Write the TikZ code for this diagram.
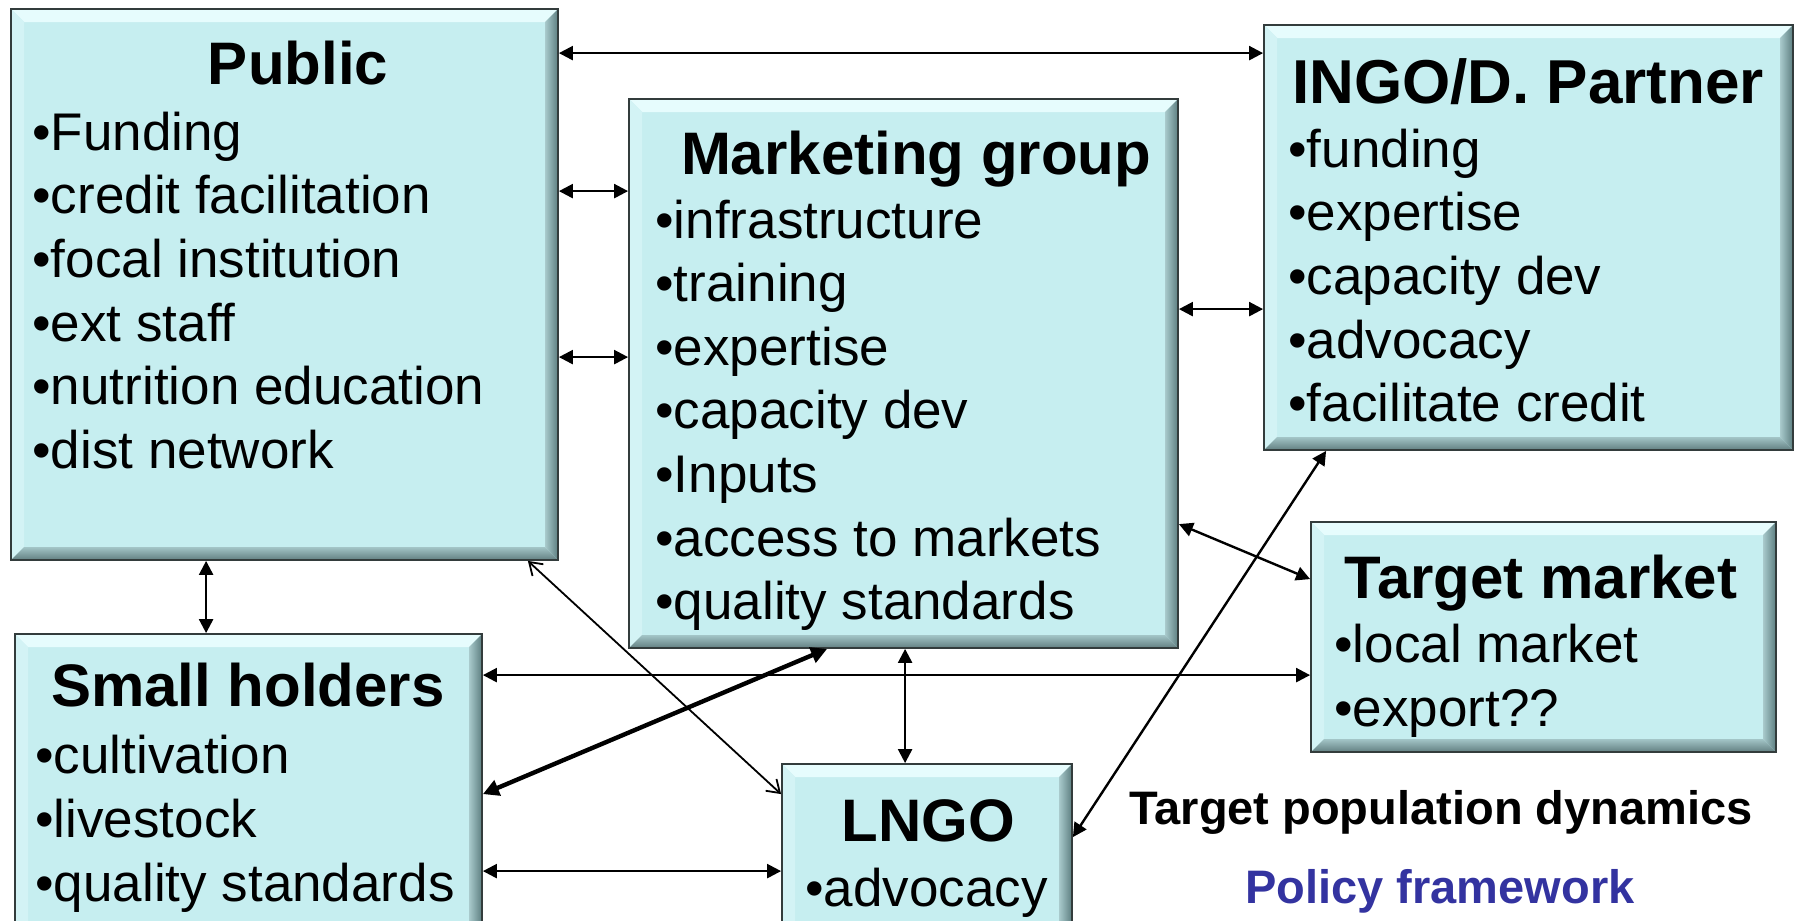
\documentclass[tikz,border=0pt]{standalone}
\usepackage{fontspec}
\setmainfont{Liberation Sans}
\usetikzlibrary{arrows.meta}
\definecolor{panelcyan}{HTML}{C6EEF0}
\definecolor{bevtop}{HTML}{E6FCFD}
\definecolor{bevleft}{HTML}{D3F3F5}
\definecolor{bevrin}{HTML}{A9CACC}
\definecolor{bevrout}{HTML}{5C7E80}
\definecolor{bevbin}{HTML}{A3C5C7}
\definecolor{bevbout}{HTML}{627F81}
\definecolor{edgegray}{HTML}{333C3C}
\definecolor{policyblue}{HTML}{3333A0}

\begin{document}
\begin{tikzpicture}[x=0.5pt,y=-0.5pt,
    panel/.style={draw=edgegray,line width=0.9pt,fill=panelcyan,inner sep=0pt,
      path picture={
        \fill[bevtop] (path picture bounding box.north west) -- (path picture bounding box.north east)
          -- ([xshift=-6.5pt,yshift=-6.5pt]path picture bounding box.north east)
          -- ([xshift=6.5pt,yshift=-6.5pt]path picture bounding box.north west) -- cycle;
        \fill[bevleft] (path picture bounding box.north west) -- ([xshift=6.5pt,yshift=-6.5pt]path picture bounding box.north west)
          -- ([xshift=6.5pt,yshift=6.5pt]path picture bounding box.south west) -- (path picture bounding box.south west) -- cycle;
        \shade[left color=bevrin,right color=bevrout] (path picture bounding box.north east) -- (path picture bounding box.south east)
          -- ([xshift=-6.5pt,yshift=6.5pt]path picture bounding box.south east)
          -- ([xshift=-6.5pt,yshift=-6.5pt]path picture bounding box.north east) -- cycle;
        \shade[top color=bevbin,bottom color=bevbout] (path picture bounding box.south west) -- (path picture bounding box.south east)
          -- ([xshift=-6.5pt,yshift=6.5pt]path picture bounding box.south east)
          -- ([xshift=6.5pt,yshift=6.5pt]path picture bounding box.south west) -- cycle;
      }},
    head/.style={font=\fontsize{30}{36}\selectfont\bfseries,anchor=base,inner sep=0pt},
    item/.style={font=\fontsize{26.5}{32}\selectfont,anchor=base west,inner sep=0pt},
    foot/.style={font=\fontsize{23.5}{28}\selectfont\bfseries,anchor=base,inner sep=0pt},
    link/.style={<->,>={Triangle[length=7pt,width=7pt]},line width=1.2pt},
    thinlink/.style={<->,>={Straight Barb[length=6pt,width=8pt]},line width=0.9pt},
    boldlink/.style={<->,>={Triangle[length=8pt,width=8pt]},line width=2.2pt}]
  \useasboundingbox (0,0) rectangle (1795,921);

  \node[panel,minimum width=273.5pt,minimum height=275.5pt] (pub) at (284.5,284.5) {};
  \node[panel,minimum width=274.5pt,minimum height=274.5pt] (mkt) at (903.5,373.5) {};
  \node[panel,minimum width=264.5pt,minimum height=212.5pt] (ingo) at (1528.5,237.5) {};
  \node[panel,minimum width=232.5pt,minimum height=115pt] (tgt) at (1543.5,637) {};
  \node[panel,minimum width=233.5pt,minimum height=153pt] (sh) at (248.5,787) {};
  \node[panel,minimum width=145pt,minimum height=88pt] (lngo) at (927,852) {};

  \node[head] (pubT) at (298,84) {Public};
  \foreach \t [count=\i from 0] in {Funding,credit facilitation,focal institution,ext staff,nutrition education,dist network}
    \node[item] (pub-\i) at (32,{150+63.7*\i}) {•\t};
  \node[head] (mktT) at (916,174) {Marketing group};
  \foreach \t [count=\i from 0] in {infrastructure,training,expertise,capacity dev,Inputs,access to markets,quality standards}
    \node[item] (mkt-\i) at (655,{238+63.6*\i}) {•\t};
  \node[head,font=\fontsize{31}{36}\selectfont\bfseries] (ingoT) at (1528,103) {INGO/D. Partner};
  \foreach \t [count=\i from 0] in {funding,expertise,capacity dev,advocacy,facilitate credit}
    \node[item] (ingo-\i) at (1288,{167+63.7*\i}) {•\t};
  \node[head] (tgtT) at (1541,598) {Target market};
  \foreach \t [count=\i from 0] in {local market,export??}
    \node[item] (tgt-\i) at (1334,{662+64*\i}) {•\t};
  \node[head] (shT) at (248,706) {Small holders};
  \foreach \t [count=\i from 0] in {cultivation,livestock,quality standards}
    \node[item] (sh-\i) at (35,{773+64*\i}) {•\t};
  \node[head] (lngoT) at (928,841) {LNGO};
  \node[item] (lngo-0) at (805,906) {•advocacy};

  \node[foot] (tpd) at (1441,824) {Target population dynamics};
  \node[foot,text=policyblue] (pol) at (1440,903) {Policy framework};

  \draw[link] ([yshift=-22.5pt]pub.north east) -- ([yshift=-14.5pt]ingo.north west);
  \draw[link] ([yshift=-91.5pt]pub.north east) -- ([yshift=-46.5pt]mkt.north west);
  \draw[link] ([yshift=-174.5pt]pub.north east) -- ([yshift=-129.5pt]mkt.north west);
  \draw[link] ([yshift=-105.5pt]mkt.north east) -- ([yshift=-142.5pt]ingo.north west);
  \draw[link] ([yshift=-213pt]mkt.north east) -- ([yshift=-29pt]tgt.north west);
  \draw[link] ([xshift=98pt]pub.south west) -- ([xshift=96pt]sh.north west);
  \draw[link] ([yshift=-21pt]sh.north east) -- ([yshift=-77pt]tgt.north west);
  \draw[thinlink] ([xshift=-15.5pt]pub.south east) -- ([yshift=-15.5pt]lngo.north west);
  \draw[boldlink] ([xshift=99.5pt]mkt.south west) -- ([yshift=-80.5pt]sh.north east);
  \draw[link] ([xshift=138.5pt]mkt.south west) -- ([xshift=62pt]lngo.north west);
  \draw[link] ([xshift=31.5pt]ingo.south west) -- ([yshift=-37pt]lngo.north east);
  \draw[link] ([yshift=-119pt]sh.north east) -- ([yshift=-54pt]lngo.north west);
\end{tikzpicture}
\end{document}
